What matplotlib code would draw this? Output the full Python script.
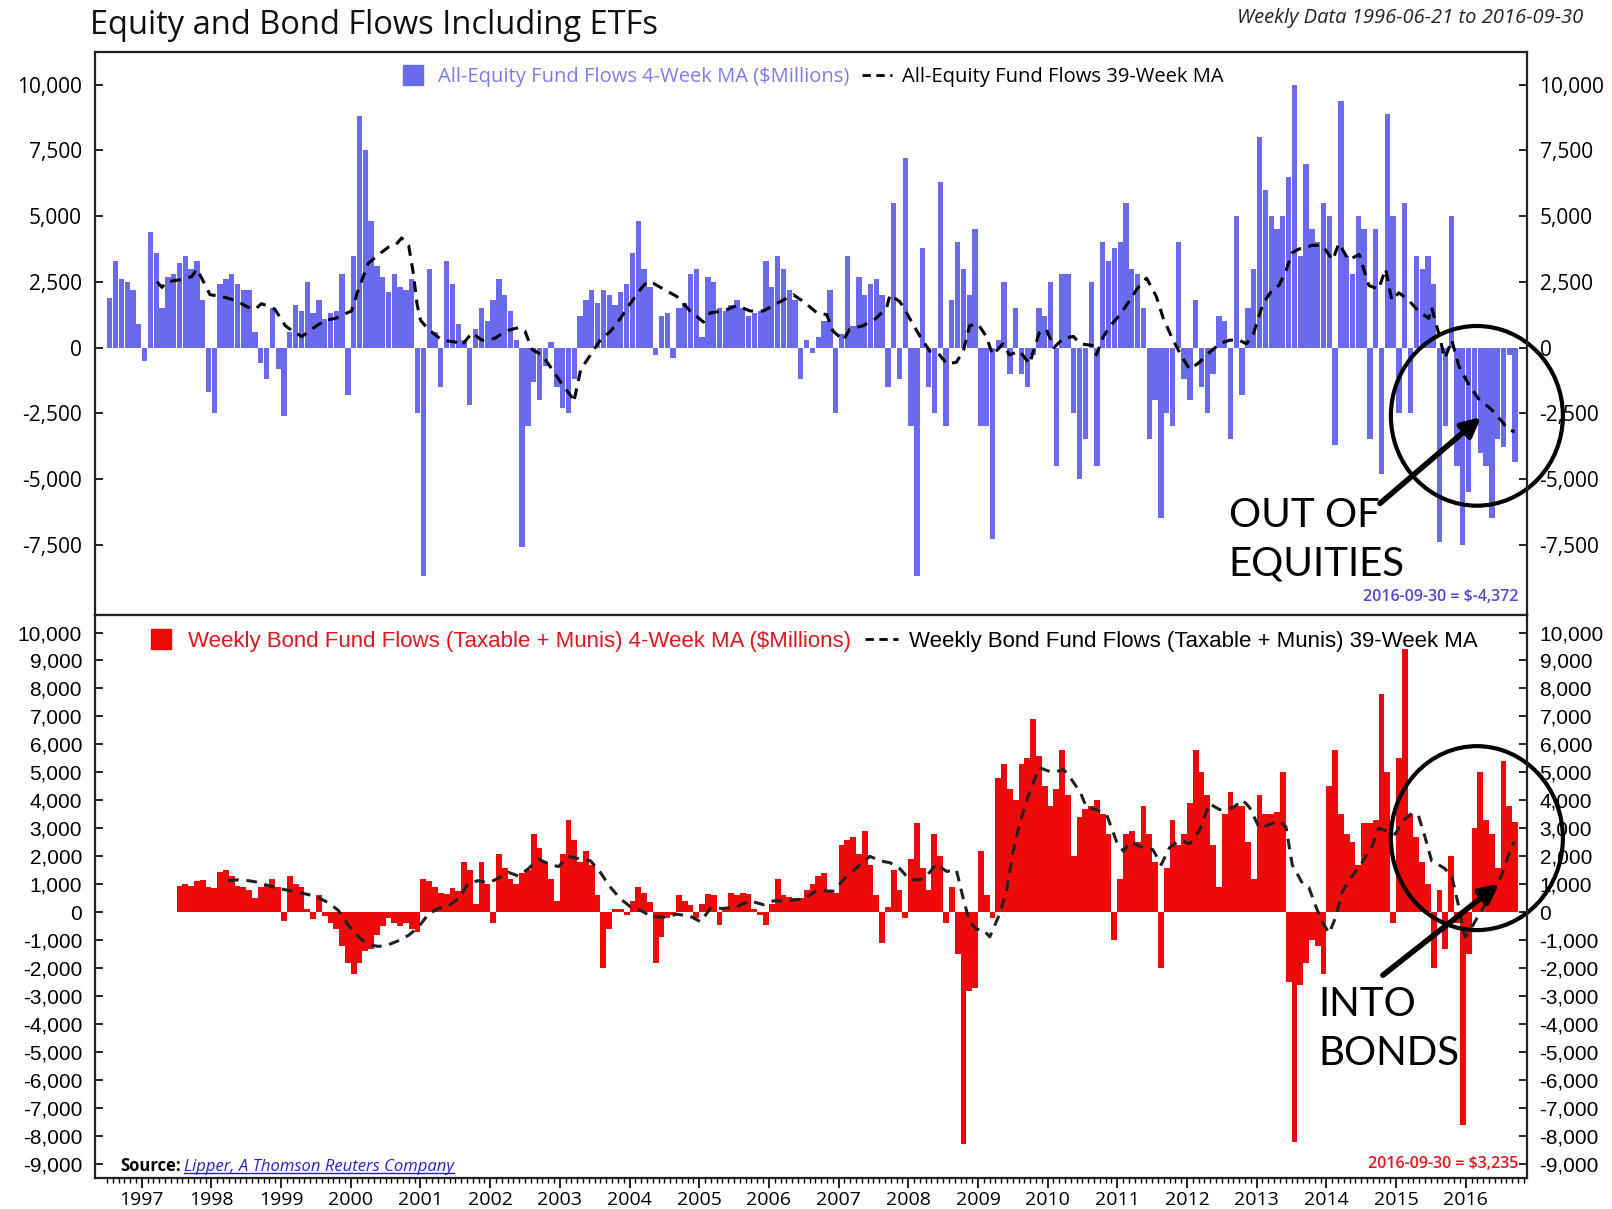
import numpy as np
import matplotlib.pyplot as plt
from matplotlib.patches import Ellipse
from matplotlib.lines import Line2D

# Monthly readings of the 4-week moving average ($ millions)
equity_start = 1996.5   # July 1996
equity_flows = [
    1900, 3300, 2600, 2500, 2200, 900,                                   # 1996 (Jul-Dec)
    -500, 4400, 3600, 1500, 2700, 2800, 3200, 3500, 3000, 3300, 1800, -1700,
    -2500, 2400, 2600, 2800, 2400, 2200, 2200, 600, -600, -1200, 1500, -800,
    -2600, 600, 1600, 1400, 2500, 1300, 1800, 1100, 1300, 1400, 2800, -1800,
    3500, 8800, 7500, 4800, 3100, 2700, 2100, 2800, 2300, 2200, 2600, -2500,
    -8700, 3000, 600, -1500, 3300, 2400, 900, 300, -2200, 700, 1500, 1000,
    1800, 2600, 2000, 1400, 300, -7600, -3000, -1300, -2000, -700, 200, -1500,
    -2300, -2500, -1200, 1200, 1800, 2200, 1700, 2200, 2000, 1600, 2100, 2400,
    3600, 4800, 3000, 2300, -300, 1200, 1300, -400, 1500, 1700, 2800, 3000,
    400, 2700, 2500, 1500, 1400, 1600, 1800, 1500, 1200, 1300, 1400, 3300,
    2300, 3500, 3000, 2200, 1800, -1200, 300, -200, 400, 1000, 2200, -2500,
    500, 3500, 800, 2700, 2000, 2400, 2600, 2000, -1500, 5500, -1200, 7200,
    -3000, -8700, 3800, -1500, -2500, 6300, -3000, 1800, 4000, 3000, 2000, 4500,
    -3000, -3000, -7300, 300, 2500, -1000, 1500, -1000, -1500, -300, 1500, 1200,
    2500, -4500, 2800, 2800, -2500, -5000, -3500, 2500, -4500, 4000, 3300, 3800,
    4000, 5500, 3000, 2800, 1500, -3500, -2000, -6500, -2500, -3000, 4000, -1200,
    -2000, 1800, -1500, -2500, -1000, 1200, 1000, -3500, 5000, -1800, 1500, 3000,
    8000, 6000, 5000, 4500, 5000, 6500, 10000, 3500, 7000, 4500, 4000, 5500,
    5000, -3700, 9400, 3500, 2800, 5000, 4500, -3500, 4500, -4800, 8900, 5000,
    -2500, 5500, -2500, 3500, 3000, 3500, 2400, -7400, -3000, 5000, -4500, -7500,
    -5500, -3000, -4000, -4500, -6500, -3500, -3800, -300, -4372,          # 2016 (Jan-Sep)
]

bond_start = 1997.5     # July 1997
bond_flows = [
    950, 1000, 950, 1100, 1150, 900,                                     # 1997 (Jul-Dec)
    850, 1450, 1500, 1300, 950, 900, 800, 500, 900, 1000, 1200, 900,
    -300, 1300, 1000, 900, 100, -250, 600, -150, -400, -600, -1200, -1800,
    -2200, -1800, -1400, -1300, -800, -500, -200, -400, -500, -400, -600, -700,
    1200, 1100, 900, 700, 650, 850, 750, 1800, 1500, 300, 1800, 1000,
    -400, 2100, 1600, 1200, 1000, 1400, 1500, 2800, 2300, 1800, 1200, 400,
    2100, 3300, 2600, 1800, 2200, 1700, 600, -2000, -600, 100, 100, -100,
    400, 900, 700, 350, -1800, -900, -200, -100, 600, 400, 250, -200,
    300, 650, 600, -450, 150, 700, 600, 700, 650, 100, -100, -450,
    300, 1200, 600, 550, 500, 500, 800, 1000, 1300, 1400, 800, 700,
    2400, 2600, 2700, 2100, 2900, 1700, 600, -1100, 200, 1500, 800, -200,
    1900, 3200, 1600, 800, 2800, 2000, -400, 900, -1500, -8300, -2800, -2700,
    2200, 600, -200, 4800, 5300, 4400, 4000, 5300, 5500, 6900, 5600, 4500,
    3800, 4400, 5800, 4200, 2000, 3400, 3700, 3800, 4000, 3500, 2800, -1000,
    1200, 2800, 2900, 2500, 3800, 2800, 1800, -2000, 1600, 3300, 2400, 2800,
    3900, 5800, 5000, 4200, 2400, 900, 3500, 4300, 3800, 3800, 2500, 1200,
    4200, 3500, 3500, 3600, 5000, -2500, -8200, -2600, -1800, -1000, -1200, -2200,
    4500, 5800, 3500, 2800, 2500, 1700, 3200, 3200, 3300, 7800, 5000, -400,
    5500, 9400, 3500, 2700, 1800, 1000, -2000, 800, -1300, 2000, -400, -7600,
    -1500, 3000, 5000, 3300, 2800, 1600, 5400, 3800, 3235,                 # 2016 (Jan-Sep)
]

# 39-week moving averages, read at points along the dashed lines
equity_ma_t = [
    1997.22, 1997.29, 1997.36, 1997.53, 1997.72, 1997.79, 1997.86, 1997.98, 1998.15, 1998.34,
    1998.53, 1998.63, 1998.72, 1998.91, 1999.06, 1999.20, 1999.30, 1999.44, 1999.63, 1999.78,
    1999.89, 2000.01, 2000.11, 2000.25, 2000.40, 2000.54, 2000.64, 2000.73, 2000.83, 2000.90,
    2000.95, 2001.00, 2001.11, 2001.31, 2001.50, 2001.59, 2001.74, 2001.88, 2002.07, 2002.22,
    2002.41, 2002.50, 2002.60, 2002.74, 2002.89, 2003.03, 2003.17, 2003.20, 2003.30, 2003.44,
    2003.58, 2003.73, 2003.87, 2004.01, 2004.16, 2004.25, 2004.35, 2004.49, 2004.68, 2004.87,
    2005.06, 2005.16, 2005.35, 2005.54, 2005.73, 2005.92, 2006.11, 2006.35, 2006.50, 2006.69,
    2006.83, 2006.92, 2007.07, 2007.16, 2007.35, 2007.54, 2007.69, 2007.74, 2007.88, 2007.93,
    2008.02, 2008.17, 2008.31, 2008.45, 2008.55, 2008.69, 2008.79, 2008.88, 2009.00, 2009.12,
    2009.21, 2009.36, 2009.45, 2009.60, 2009.74, 2009.88, 2009.98, 2010.09, 2010.23, 2010.37,
    2010.47, 2010.66, 2010.70, 2010.80, 2010.90, 2011.04, 2011.18, 2011.28, 2011.37, 2011.42,
    2011.56, 2011.66, 2011.80, 2011.94, 2012.04, 2012.18, 2012.28, 2012.47, 2012.61, 2012.75,
    2012.85, 2012.94, 2013.09, 2013.23, 2013.32, 2013.42, 2013.51, 2013.61, 2013.80, 2013.94,
    2014.09, 2014.18, 2014.32, 2014.47, 2014.61, 2014.75, 2014.85, 2014.94, 2015.04, 2015.18,
    2015.32, 2015.47, 2015.51, 2015.61, 2015.70, 2015.80, 2015.90, 2016.04, 2016.18, 2016.37,
    2016.51, 2016.61, 2016.70,
]
equity_ma = [
    2500, 2290, 2500, 2570, 2700, 2990, 2640, 2010, 1940, 1800,
    1530, 1460, 1670, 1460, 830, 560, 420, 700, 1040, 1110,
    1250, 1390, 2220, 3200, 3540, 3820, 3890, 4170, 3890, 2780,
    1670, 1040, 700, 280, 210, 70, 560, 280, 350, 625,
    760, 625, -70, -280, -830, -1390, -1875, -2080, -830, -280,
    280, 625, 1110, 1670, 2220, 2500, 2430, 2220, 1940, 1390,
    970, 1320, 1390, 1600, 1390, 1390, 1670, 2010, 1740, 1320,
    1250, 625, 280, 700, 830, 1110, 1530, 2010, 1740, 1530,
    1110, 420, -140, -280, -625, -560, -140, 830, 900, 420,
    -280, 140, -280, -140, -625, 560, 700, 0, 350, 420,
    140, 70, -280, 420, 830, 1250, 1800, 2220, 2500, 2640,
    1940, 1110, 280, -420, -830, -560, -280, 140, 280, 280,
    140, 420, 1670, 2220, 2360, 2920, 3610, 3750, 3890, 3890,
    3330, 3960, 3330, 3540, 2360, 2220, 2990, 1800, 2080, 1800,
    1390, 1110, 1530, 560, -420, 280, -700, -1390, -1940, -2360,
    -2780, -3130, -3200,
]

bond_ma_t = [
    1998.24, 1998.39, 1998.53, 1998.63, 1998.77, 1998.91, 1999.11, 1999.30, 1999.49, 1999.68,
    1999.82, 1999.97, 2000.11, 2000.25, 2000.40, 2000.54, 2000.68, 2000.83, 2000.97, 2001.11,
    2001.26, 2001.40, 2001.55, 2001.69, 2001.83, 2001.98, 2002.12, 2002.26, 2002.41, 2002.55,
    2002.69, 2002.84, 2002.98, 2003.12, 2003.30, 2003.44, 2003.58, 2003.73, 2003.87, 2004.01,
    2004.16, 2004.30, 2004.49, 2004.68, 2004.87, 2005.02, 2005.16, 2005.35, 2005.54, 2005.73,
    2005.92, 2006.07, 2006.26, 2006.50, 2006.69, 2006.92, 2007.12, 2007.31, 2007.45, 2007.59,
    2007.74, 2007.88, 2008.02, 2008.17, 2008.31, 2008.40, 2008.55, 2008.69, 2008.79, 2008.88,
    2008.98, 2009.07, 2009.17, 2009.31, 2009.41, 2009.50, 2009.60, 2009.74, 2009.88, 2010.03,
    2010.13, 2010.23, 2010.32, 2010.47, 2010.56, 2010.70, 2010.85, 2010.99, 2011.09, 2011.18,
    2011.37, 2011.51, 2011.63, 2011.75, 2011.90, 2012.04, 2012.18, 2012.32, 2012.47, 2012.66,
    2012.80, 2012.90, 2013.04, 2013.18, 2013.32, 2013.42, 2013.51, 2013.66, 2013.75, 2013.85,
    2013.94, 2014.04, 2014.13, 2014.23, 2014.37, 2014.51, 2014.66, 2014.75, 2014.85, 2014.99,
    2015.09, 2015.23, 2015.32, 2015.42, 2015.51, 2015.61, 2015.70, 2015.80, 2015.90, 2015.99,
    2016.04, 2016.13, 2016.23, 2016.37, 2016.51, 2016.66, 2016.70,
]
bond_ma = [
    1130, 1160, 1130, 1090, 990, 880, 780, 680, 580, 340,
    70, -480, -880, -1160, -1220, -1160, -1020, -820, -540, -70,
    140, 230, 480, 1050, 1130, 1050, 1220, 1430, 1290, 1560,
    1900, 1730, 1630, 2000, 1900, 1840, 1430, 880, 480, 200,
    70, -140, -180, -70, -140, -340, 140, 140, 200, 410,
    270, 410, 410, 480, 780, 750, 1290, 1700, 2000, 1840,
    1770, 1560, 1160, 1160, 1430, 1730, 1460, 1520, 480, -340,
    -610, -610, -880, -70, 750, 2110, 3200, 4280, 5170, 5030,
    5030, 5100, 4830, 4280, 3740, 3670, 3470, 2520, 2180, 2520,
    2310, 2240, 1700, 2310, 2580, 2450, 2920, 3880, 3670, 3740,
    4010, 3740, 3000, 3130, 3260, 3060, 1700, 1020, 880, 200,
    -340, -750, -200, 750, 1290, 1770, 2380, 3000, 2920, 2790,
    3260, 3540, 3470, 2650, 1840, 1700, 1560, 1290, 200, -880,
    -750, -340, 70, 680, 1290, 2380, 2520,
]

equity_ticks = [-7500, -5000, -2500, 0, 2500, 5000, 7500, 10000]
bond_ticks = list(range(-9000, 10001, 1000))
years = list(range(1997, 2017))

EQ_BLUE = "#6a6aef"
EQ_TEXT = "#7c7cf2"
BOND_RED = "#ee0a0a"
BOND_TEXT = "#e8141c"

fig = plt.figure(figsize=(16.12, 12.09), dpi=100)
ax1 = fig.add_axes([0.0587, 0.4913, 0.8886, 0.4661])
ax2 = fig.add_axes([0.0587, 0.0256, 0.8886, 0.4657])

xlim = (1996.324, 2016.88)

# top panel: equity
eq_x = equity_start + (np.arange(len(equity_flows)) + 0.5) / 12
ax1.bar(eq_x, equity_flows, width=0.92 / 12, color=EQ_BLUE, linewidth=0)
ax1.plot(equity_ma_t, equity_ma, color="black", lw=2.2, dashes=(3.5, 2.5))
ax1.set_xlim(*xlim)
ax1.set_ylim(-10180, 11265)
ax1.set_yticks(equity_ticks)
ax1.set_yticklabels([f"{v:,}" for v in equity_ticks], family="Open Sans", fontsize=15)
ax1.tick_params(axis="y", left=True, right=True, labelleft=True, labelright=True,
                direction="in", length=6, width=1.2, pad=9)
ax1.tick_params(axis="x", bottom=False, labelbottom=False)

# bottom panel: bonds
bd_x = bond_start + (np.arange(len(bond_flows)) + 0.5) / 12
ax2.bar(bd_x, bond_flows, width=1.0 / 12, color=BOND_RED, linewidth=0)
ax2.plot(bond_ma_t, bond_ma, color="#222222", lw=2.2, dashes=(3.5, 2.5))
ax2.set_xlim(*xlim)
ax2.set_ylim(-9500, 10625)
ax2.set_yticks(bond_ticks)
ax2.set_yticklabels([f"{v:,}" for v in bond_ticks], family="Liberation Sans", fontsize=15)
ax2.tick_params(axis="y", left=True, right=True, labelleft=True, labelright=True,
                direction="in", length=6, width=1.2, pad=9)
ax2.set_xticks(years)
ax2.set_xticklabels([str(y) for y in years], family="Open Sans", fontsize=14)
ax2.set_xticks(np.arange(1996.5, 2016.9, 1 / 12), minor=True)
ax2.tick_params(axis="x", which="major", direction="out", length=7, width=1.2, pad=2)
ax2.tick_params(axis="x", which="minor", direction="out", length=3.5, width=1)

for ax in (ax1, ax2):
    for s in ax.spines.values():
        s.set_linewidth(1.6)
        s.set_color("#222222")

# legends
h1 = [Line2D([], [], marker="s", markersize=15, linestyle="none", color=EQ_BLUE),
      Line2D([], [], color="black", lw=2, dashes=(3, 2))]
leg1 = ax1.legend(h1, ["All-Equity Fund Flows 4-Week MA ($Millions)",
                       "All-Equity Fund Flows 39-Week MA"],
                  loc="upper center", bbox_to_anchor=(0.5, 1.0), ncol=2, frameon=False,
                  prop={"family": "Open Sans", "size": 14.5}, handlelength=1.5,
                  handletextpad=0.5, columnspacing=0.6, borderaxespad=0.35)
leg1.get_texts()[0].set_color(EQ_TEXT)

h2 = [Line2D([], [], marker="s", markersize=15, linestyle="none", color=BOND_RED),
      Line2D([], [], color="black", lw=2, dashes=(3, 2))]
leg2 = ax2.legend(h2, ["Weekly Bond Fund Flows (Taxable + Munis) 4-Week MA ($Millions)",
                       "Weekly Bond Fund Flows (Taxable + Munis) 39-Week MA"],
                  loc="upper center", bbox_to_anchor=(0.5, 1.0), ncol=2, frameon=False,
                  prop={"family": "Liberation Sans", "size": 16}, handlelength=1.5,
                  handletextpad=0.5, columnspacing=0.6, borderaxespad=0.3)
leg2.get_texts()[0].set_color(BOND_TEXT)

# last-value notes
ax1.text(0.9937, 0.032, "2016-09-30 = $-4,372", transform=ax1.transAxes, ha="right",
         va="center", color="#4a4ad6", family="Open Sans", fontweight="semibold",
         fontsize=11.5)
ax2.text(0.9937, 0.025, "2016-09-30 = $3,235", transform=ax2.transAxes, ha="right",
         va="center", color=BOND_TEXT, family="Open Sans", fontweight="semibold",
         fontsize=11.5)

# circles, arrows and callouts
ax1.add_patch(Ellipse((2016.16, -2600), 172 / 69.68, 180 / 26.32 * 1000, fill=False,
                      lw=3, ec="black", clip_on=False))
ax2.add_patch(Ellipse((2016.16, 2650), 172 / 69.68, 184 / 27.98 * 1000, fill=False,
                      lw=3, ec="black", clip_on=False))
ax1.annotate("", xy=(2016.25, -2580), xytext=(2014.74, -6000),
             arrowprops=dict(arrowstyle="-|>", lw=4, color="black", mutation_scale=28))
ax2.annotate("", xy=(2016.51, 1080), xytext=(2014.78, -2310),
             arrowprops=dict(arrowstyle="-|>", lw=4, color="black", mutation_scale=28))
ax1.text(2012.60, -7330, "OUT OF\nEQUITIES", ha="left", va="center", family="Lato",
         fontsize=29, linespacing=1.38)
ax2.text(2013.88, -4170, "INTO\nBONDS", ha="left", va="center", family="Lato",
         fontsize=29, linespacing=1.38)

# titles
fig.text(90 / 1612, 1 - 26 / 1209, "Equity and Bond Flows Including ETFs", ha="left",
         va="center", family="Open Sans", fontsize=23.5, color="#111111")
fig.text(1583 / 1612, 1 - 18.5 / 1209, "Weekly Data 1996-06-21 to 2016-09-30", ha="right",
         va="center", family="Open Sans", style="italic", fontsize=14.5, color="#222222")

# source line
src = ax2.text(0.0177, 0.006, "Source:", transform=ax2.transAxes, ha="left", va="bottom",
               family="Open Sans", fontweight="bold", fontsize=12)
fig.canvas.draw()
bb = src.get_window_extent()
x0 = ax2.transAxes.inverted().transform((bb.x1 + 3, bb.y0))[0]
link = ax2.text(x0, 0.006, "Lipper, A Thomson Reuters Company", transform=ax2.transAxes,
                ha="left", va="bottom", family="Open Sans", style="italic", fontsize=12,
                color="#2222cc")
fig.canvas.draw()
lb = link.get_window_extent()
inv = ax2.transAxes.inverted()
(ux0, uy), (ux1, _) = inv.transform([(lb.x0, lb.y0 + 2), (lb.x1, lb.y0 + 2)])
ax2.add_line(Line2D([ux0, ux1], [uy, uy], transform=ax2.transAxes, color="#2222cc", lw=1))

fig.savefig("out.png", dpi=100)
